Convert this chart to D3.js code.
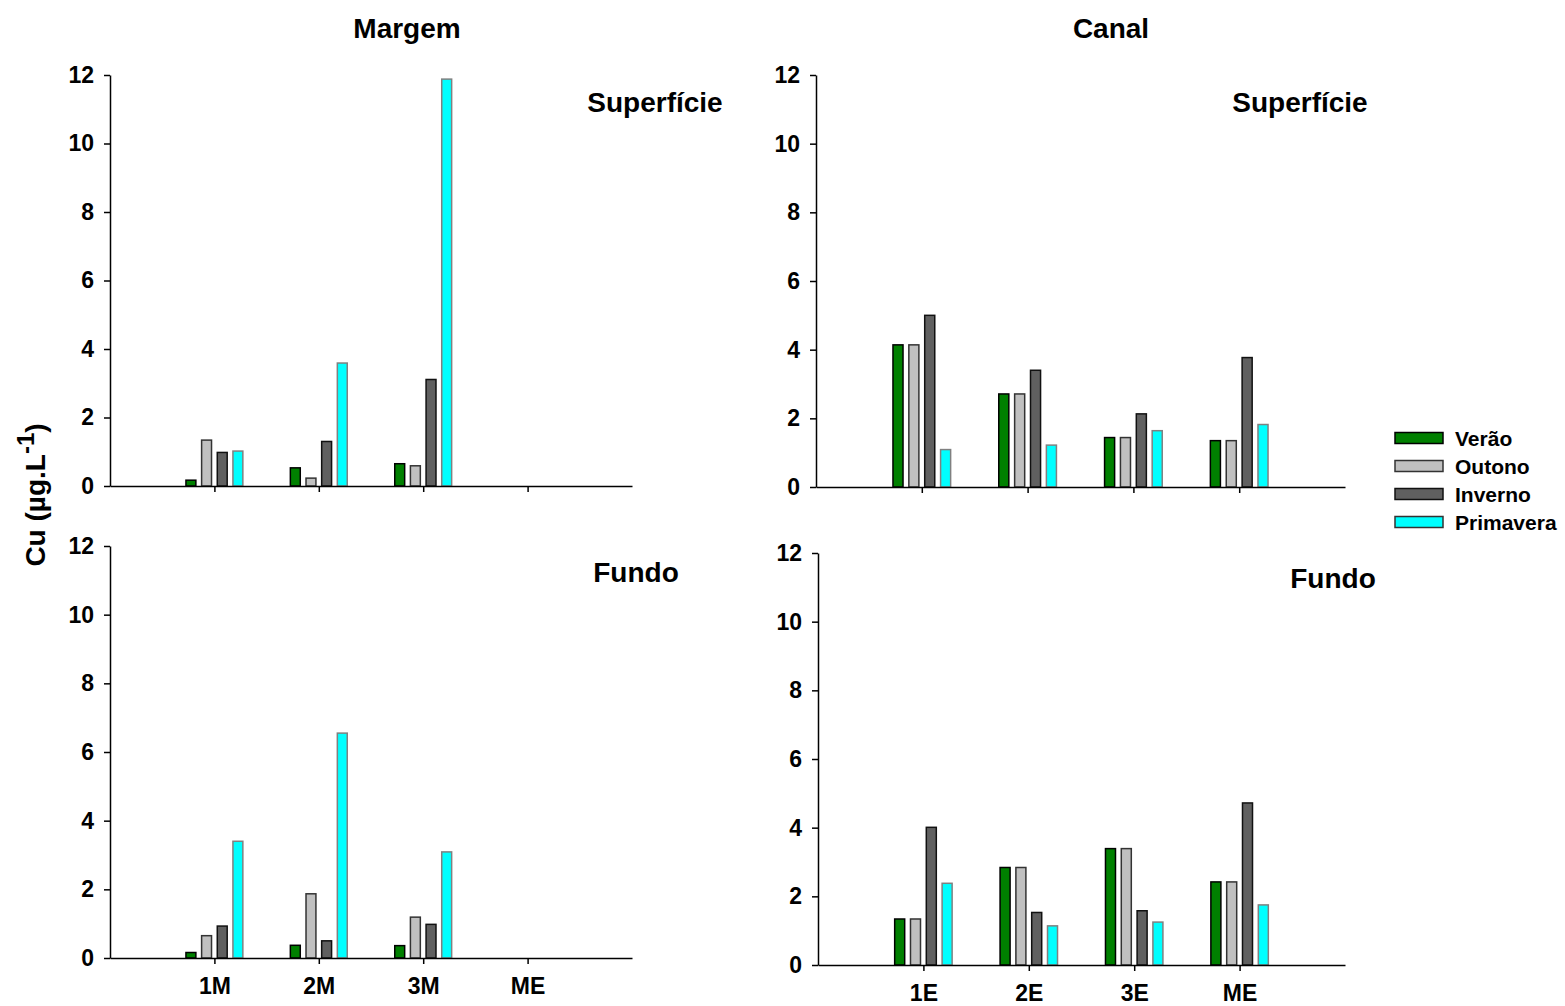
<!DOCTYPE html>
<meta charset="utf-8">
<head>
  <title>Cu</title>
  <script src="https://cdnjs.cloudflare.com/ajax/libs/d3/7.8.5/d3.min.js"></script>
</head>
<style>
  body { margin: 0; background: white; }
  text { font-family: "Liberation Sans", Arial, sans-serif; font-weight: bold; fill: black; }
</style>
<body>
<div id="chart"></div>
<script>
// categories
var seasons = ["Verão", "Outono", "Inverno", "Primavera"];
var margemCats = ["1M", "2M", "3M", "ME"];
var canalCats = ["1E", "2E", "3E", "ME"];
var yTicks = [0, 2, 4, 6, 8, 10, 12];

// values, one row per season (Verão, Outono, Inverno, Primavera), null = no bar
var margemSup = [
  [0.17, 0.53, 0.65, null],
  [1.34, 0.23, 0.59, null],
  [0.98, 1.30, 3.11, null],
  [1.02, 3.59, 11.88, null]
];
var margemFundo = [
  [0.16, 0.37, 0.36, null],
  [0.65, 1.87, 1.19, null],
  [0.93, 0.50, 0.98, null],
  [3.40, 6.55, 3.09, null]
];
var canalSup = [
  [4.14, 2.71, 1.44, 1.35],
  [4.14, 2.71, 1.44, 1.35],
  [5.00, 3.40, 2.13, 3.77],
  [1.09, 1.22, 1.64, 1.82]
];
var canalFundo = [
  [1.34, 2.84, 3.39, 2.42],
  [1.34, 2.84, 3.39, 2.42],
  [4.01, 1.53, 1.58, 4.72],
  [2.38, 1.14, 1.25, 1.75]
];

var fills = ["#008000", "#c0c0c0", "#606060", "#00ffff"];
var strokes = ["#000", "#333", "#111", "#808080"];

var svg = d3.select("#chart").append("svg")
  .attr("width", 1565)
  .attr("height", 1006);

function panel(p) {
  var x = d3.scaleLinear().domain([0, 5]).range([p.x0, p.x1]);
  var y = d3.scaleLinear().domain([0, 12]).range([p.y0, p.y12]);
  var g = svg.append("g");

  // bars
  var pitch = 0.15, bw = x(0.095) - x(0);
  p.data.forEach(function(row, s) {
    row.forEach(function(v, c) {
      if (v == null) return;
      var cx = x(c + 1 + (s - 1.5) * pitch);
      g.append("rect")
        .attr("x", cx - bw / 2)
        .attr("y", y(v))
        .attr("width", bw)
        .attr("height", y(0) - y(v))
        .attr("fill", fills[s])
        .attr("stroke", strokes[s])
        .attr("stroke-width", 1.5);
    });
  });

  var yAxis = g.append("g")
    .attr("transform", "translate(" + p.x0 + ",0)")
    .call(d3.axisLeft(y).tickValues(yTicks).tickSize(6).tickSizeOuter(0).tickPadding(10));
  yAxis.selectAll("text").style("font-size", "23px");

  var xAxis = g.append("g")
    .attr("transform", "translate(0," + p.y0 + ")")
    .call(d3.axisBottom(x).tickValues([1, 2, 3, 4]).tickSize(6).tickSizeOuter(0).tickPadding(14)
      .tickFormat(function(d) { return p.labels ? p.cats[d - 1] : ""; }));
  xAxis.selectAll("text").style("font-size", "23px");

  g.selectAll(".domain, .tick line").attr("stroke", "black").attr("stroke-width", 1.5);

  g.append("text")
    .attr("x", p.tx)
    .attr("y", p.ty)
    .attr("text-anchor", "middle")
    .style("font-size", "28px")
    .text(p.title);
}

panel({x0: 110, x1: 632, y0: 486, y12: 75, data: margemSup, cats: margemCats, labels: false, title: "Superfície", tx: 655, ty: 112});
panel({x0: 816, x1: 1345, y0: 487, y12: 75, data: canalSup, cats: canalCats, labels: false, title: "Superfície", tx: 1300, ty: 112});
panel({x0: 110, x1: 632, y0: 958, y12: 546, data: margemFundo, cats: margemCats, labels: true, title: "Fundo", tx: 636, ty: 582});
panel({x0: 818, x1: 1345, y0: 965, y12: 553, data: canalFundo, cats: canalCats, labels: true, title: "Fundo", tx: 1333, ty: 588});

// column titles
svg.append("text").attr("x", 407).attr("y", 38).attr("text-anchor", "middle").style("font-size", "28px").text("Margem");
svg.append("text").attr("x", 1111).attr("y", 38).attr("text-anchor", "middle").style("font-size", "28px").text("Canal");

// y label
var yl = svg.append("text")
  .attr("transform", "translate(45,495) rotate(-90)")
  .attr("text-anchor", "middle")
  .style("font-size", "28px");
yl.append("tspan").text("Cu (µg.L");
yl.append("tspan").attr("dy", -11).style("font-size", "24px").text("-1");
yl.append("tspan").attr("dy", 11).text(")");

// legend
var legend = svg.append("g");
seasons.forEach(function(s, i) {
  var ly = 438 + i * 28;
  legend.append("rect")
    .attr("x", 1395).attr("y", ly - 5.5)
    .attr("width", 48).attr("height", 11)
    .attr("fill", fills[i])
    .attr("stroke", i == 3 ? "#333" : strokes[i])
    .attr("stroke-width", 1.5);
  legend.append("text")
    .attr("x", 1455).attr("y", ly)
    .attr("dy", "0.36em")
    .style("font-size", "21px")
    .text(s);
});
</script>
</body>
